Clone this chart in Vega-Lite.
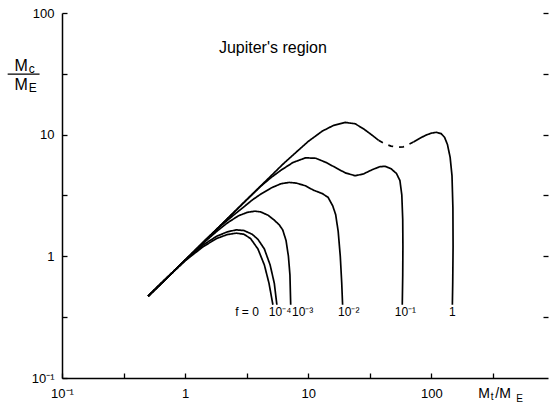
{
  "$schema": "https://vega.github.io/schema/vega-lite/v6.json",
  "width": 486,
  "height": 365,
  "autosize": {"type": "none"},
  "padding": {"left": 62, "top": 13, "right": 4, "bottom": 39},
  "background": "white",
  "config": {"view": {"stroke": null}, "font": "Liberation Sans"},
  "resolve": {"axis": {"x": "independent", "y": "independent"}},
  "datasets": {
    "curves": [
      {"c":"f0","s":"f0","d":"solid","i":1,"x":0.5,"y":0.47},{"c":"f0","s":"f0","d":"solid","i":2,"x":0.7,"y":0.655},{"c":"f0","s":"f0","d":"solid","i":3,"x":1,"y":0.92},{"c":"f0","s":"f0","d":"solid","i":4,"x":1.4,"y":1.2},{"c":"f0","s":"f0","d":"solid","i":5,"x":1.8,"y":1.4},{"c":"f0","s":"f0","d":"solid","i":6,"x":2.2,"y":1.51},{"c":"f0","s":"f0","d":"solid","i":7,"x":2.6,"y":1.55},{"c":"f0","s":"f0","d":"solid","i":8,"x":3.0,"y":1.52},{"c":"f0","s":"f0","d":"solid","i":9,"x":3.4,"y":1.4},{"c":"f0","s":"f0","d":"solid","i":10,"x":3.9,"y":1.15},{"c":"f0","s":"f0","d":"solid","i":11,"x":4.4,"y":0.85},{"c":"f0","s":"f0","d":"solid","i":12,"x":4.8,"y":0.6},{"c":"f0","s":"f0","d":"solid","i":13,"x":5.16,"y":0.4},
      {"c":"f4","s":"f4","d":"solid","i":1,"x":0.5,"y":0.47},{"c":"f4","s":"f4","d":"solid","i":2,"x":0.7,"y":0.655},{"c":"f4","s":"f4","d":"solid","i":3,"x":1,"y":0.93},{"c":"f4","s":"f4","d":"solid","i":4,"x":1.4,"y":1.24},{"c":"f4","s":"f4","d":"solid","i":5,"x":1.8,"y":1.46},{"c":"f4","s":"f4","d":"solid","i":6,"x":2.2,"y":1.59},{"c":"f4","s":"f4","d":"solid","i":7,"x":2.6,"y":1.65},{"c":"f4","s":"f4","d":"solid","i":8,"x":3.0,"y":1.63},{"c":"f4","s":"f4","d":"solid","i":9,"x":3.5,"y":1.52},{"c":"f4","s":"f4","d":"solid","i":10,"x":3.9,"y":1.38},{"c":"f4","s":"f4","d":"solid","i":11,"x":4.4,"y":1.15},{"c":"f4","s":"f4","d":"solid","i":12,"x":4.9,"y":0.85},{"c":"f4","s":"f4","d":"solid","i":13,"x":5.3,"y":0.6},{"c":"f4","s":"f4","d":"solid","i":14,"x":5.56,"y":0.4},
      {"c":"f3","s":"f3","d":"solid","i":1,"x":0.5,"y":0.47},{"c":"f3","s":"f3","d":"solid","i":2,"x":1,"y":0.93},{"c":"f3","s":"f3","d":"solid","i":3,"x":1.4,"y":1.28},{"c":"f3","s":"f3","d":"solid","i":4,"x":1.8,"y":1.6},{"c":"f3","s":"f3","d":"solid","i":5,"x":2.2,"y":1.88},{"c":"f3","s":"f3","d":"solid","i":6,"x":2.7,"y":2.15},{"c":"f3","s":"f3","d":"solid","i":7,"x":3.2,"y":2.3},{"c":"f3","s":"f3","d":"solid","i":8,"x":3.7,"y":2.35},{"c":"f3","s":"f3","d":"solid","i":9,"x":4.1,"y":2.32},{"c":"f3","s":"f3","d":"solid","i":10,"x":4.7,"y":2.18},{"c":"f3","s":"f3","d":"solid","i":11,"x":5.25,"y":2.0},{"c":"f3","s":"f3","d":"solid","i":12,"x":5.8,"y":1.82},{"c":"f3","s":"f3","d":"solid","i":13,"x":6.2,"y":1.65},{"c":"f3","s":"f3","d":"solid","i":14,"x":6.6,"y":1.35},{"c":"f3","s":"f3","d":"solid","i":15,"x":6.9,"y":1.0},{"c":"f3","s":"f3","d":"solid","i":16,"x":7.1,"y":0.7},{"c":"f3","s":"f3","d":"solid","i":17,"x":7.2,"y":0.4},
      {"c":"f2","s":"f2","d":"solid","i":1,"x":0.5,"y":0.47},{"c":"f2","s":"f2","d":"solid","i":2,"x":1,"y":0.93},{"c":"f2","s":"f2","d":"solid","i":3,"x":1.5,"y":1.4},{"c":"f2","s":"f2","d":"solid","i":4,"x":2,"y":1.82},{"c":"f2","s":"f2","d":"solid","i":5,"x":2.5,"y":2.2},{"c":"f2","s":"f2","d":"solid","i":6,"x":3,"y":2.55},{"c":"f2","s":"f2","d":"solid","i":7,"x":3.5,"y":2.9},{"c":"f2","s":"f2","d":"solid","i":8,"x":4.1,"y":3.24},{"c":"f2","s":"f2","d":"solid","i":9,"x":5,"y":3.65},{"c":"f2","s":"f2","d":"solid","i":10,"x":6,"y":3.95},{"c":"f2","s":"f2","d":"solid","i":11,"x":7,"y":4.05},{"c":"f2","s":"f2","d":"solid","i":12,"x":8,"y":4.0},{"c":"f2","s":"f2","d":"solid","i":13,"x":9.5,"y":3.8},{"c":"f2","s":"f2","d":"solid","i":14,"x":11,"y":3.5},{"c":"f2","s":"f2","d":"solid","i":15,"x":13,"y":3.28},{"c":"f2","s":"f2","d":"solid","i":16,"x":14.5,"y":3.05},{"c":"f2","s":"f2","d":"solid","i":17,"x":15.8,"y":2.6},{"c":"f2","s":"f2","d":"solid","i":18,"x":16.7,"y":2.2},{"c":"f2","s":"f2","d":"solid","i":19,"x":17.5,"y":1.6},{"c":"f2","s":"f2","d":"solid","i":20,"x":18.2,"y":1.0},{"c":"f2","s":"f2","d":"solid","i":21,"x":18.7,"y":0.6},{"c":"f2","s":"f2","d":"solid","i":22,"x":19,"y":0.4},
      {"c":"f1","s":"f1","d":"solid","i":1,"x":0.5,"y":0.47},{"c":"f1","s":"f1","d":"solid","i":2,"x":1,"y":0.93},{"c":"f1","s":"f1","d":"solid","i":3,"x":2,"y":1.85},{"c":"f1","s":"f1","d":"solid","i":4,"x":3,"y":2.77},{"c":"f1","s":"f1","d":"solid","i":5,"x":4.1,"y":3.76},{"c":"f1","s":"f1","d":"solid","i":6,"x":5,"y":4.45},{"c":"f1","s":"f1","d":"solid","i":7,"x":6,"y":5.1},{"c":"f1","s":"f1","d":"solid","i":8,"x":7.5,"y":5.9},{"c":"f1","s":"f1","d":"solid","i":9,"x":9.5,"y":6.45},{"c":"f1","s":"f1","d":"solid","i":10,"x":11.5,"y":6.4},{"c":"f1","s":"f1","d":"solid","i":11,"x":14,"y":5.9},{"c":"f1","s":"f1","d":"solid","i":12,"x":17,"y":5.3},{"c":"f1","s":"f1","d":"solid","i":13,"x":20,"y":4.85},{"c":"f1","s":"f1","d":"solid","i":14,"x":24,"y":4.6},{"c":"f1","s":"f1","d":"solid","i":15,"x":28,"y":4.75},{"c":"f1","s":"f1","d":"solid","i":16,"x":33,"y":5.15},{"c":"f1","s":"f1","d":"solid","i":17,"x":38,"y":5.45},{"c":"f1","s":"f1","d":"solid","i":18,"x":42,"y":5.5},{"c":"f1","s":"f1","d":"solid","i":19,"x":47,"y":5.25},{"c":"f1","s":"f1","d":"solid","i":20,"x":52,"y":4.8},{"c":"f1","s":"f1","d":"solid","i":21,"x":55.5,"y":4.2},{"c":"f1","s":"f1","d":"solid","i":22,"x":57.5,"y":3.2},{"c":"f1","s":"f1","d":"solid","i":23,"x":58.5,"y":2.0},{"c":"f1","s":"f1","d":"solid","i":24,"x":58.7,"y":1.2},{"c":"f1","s":"f1","d":"solid","i":25,"x":58.5,"y":0.7},{"c":"f1","s":"f1","d":"solid","i":26,"x":58,"y":0.4},
      {"c":"fa","s":"fa1","d":"solid","i":1,"x":0.5,"y":0.47},{"c":"fa","s":"fa1","d":"solid","i":2,"x":1,"y":0.93},{"c":"fa","s":"fa1","d":"solid","i":3,"x":2,"y":1.85},{"c":"fa","s":"fa1","d":"solid","i":4,"x":3,"y":2.77},{"c":"fa","s":"fa1","d":"solid","i":5,"x":4,"y":3.69},{"c":"fa","s":"fa1","d":"solid","i":6,"x":5,"y":4.6},{"c":"fa","s":"fa1","d":"solid","i":7,"x":6.2,"y":5.7},{"c":"fa","s":"fa1","d":"solid","i":8,"x":8,"y":7.2},{"c":"fa","s":"fa1","d":"solid","i":9,"x":10,"y":8.8},{"c":"fa","s":"fa1","d":"solid","i":10,"x":13,"y":10.7},{"c":"fa","s":"fa1","d":"solid","i":11,"x":16,"y":11.9},{"c":"fa","s":"fa1","d":"solid","i":12,"x":20,"y":12.6},{"c":"fa","s":"fa1","d":"solid","i":13,"x":24,"y":12.3},{"c":"fa","s":"fa1","d":"solid","i":14,"x":28,"y":11.2},{"c":"fa","s":"fa1","d":"solid","i":15,"x":33,"y":9.9},{"c":"fa","s":"fa1","d":"solid","i":16,"x":37.2,"y":9.0},
      {"c":"fa","s":"fa2","d":"dashed","i":1,"x":37.2,"y":9.0},{"c":"fa","s":"fa2","d":"dashed","i":2,"x":42,"y":8.4},{"c":"fa","s":"fa2","d":"dashed","i":3,"x":47,"y":8.05},{"c":"fa","s":"fa2","d":"dashed","i":4,"x":53,"y":7.9},{"c":"fa","s":"fa2","d":"dashed","i":5,"x":59,"y":7.95},{"c":"fa","s":"fa2","d":"dashed","i":6,"x":65,"y":8.3},{"c":"fa","s":"fa2","d":"dashed","i":7,"x":71.5,"y":8.7},
      {"c":"fa","s":"fa3","d":"solid","i":1,"x":71.5,"y":8.7},{"c":"fa","s":"fa3","d":"solid","i":2,"x":80,"y":9.3},{"c":"fa","s":"fa3","d":"solid","i":3,"x":90,"y":9.9},{"c":"fa","s":"fa3","d":"solid","i":4,"x":100,"y":10.3},{"c":"fa","s":"fa3","d":"solid","i":5,"x":110,"y":10.45},{"c":"fa","s":"fa3","d":"solid","i":6,"x":120,"y":10.2},{"c":"fa","s":"fa3","d":"solid","i":7,"x":128,"y":9.5},{"c":"fa","s":"fa3","d":"solid","i":8,"x":135,"y":8.3},{"c":"fa","s":"fa3","d":"solid","i":9,"x":142,"y":6.5},{"c":"fa","s":"fa3","d":"solid","i":10,"x":147,"y":4.6},{"c":"fa","s":"fa3","d":"solid","i":11,"x":149.5,"y":2.5},{"c":"fa","s":"fa3","d":"solid","i":12,"x":150,"y":1.2},{"c":"fa","s":"fa3","d":"solid","i":13,"x":149,"y":0.6},{"c":"fa","s":"fa3","d":"solid","i":14,"x":148,"y":0.4}
    ],
    "curveLabels": [
      {"t":"f = 0","x":3.18,"y":0.352},
      {"t":"10⁻⁴","x":5.9,"y":0.352},
      {"t":"10⁻³","x":9.0,"y":0.352},
      {"t":"10⁻²","x":21.3,"y":0.352},
      {"t":"10⁻¹","x":61.5,"y":0.352},
      {"t":"1","x":148,"y":0.352}
    ],
    "yTitleBig": [
      {"t":"M","x":0.0412,"y":33.3},
      {"t":"M","x":0.0412,"y":23.2}
    ],
    "yTitleSub": [
      {"t":"c","x":0.0536,"y":32.1},
      {"t":"E","x":0.0536,"y":22.4}
    ],
    "xTitleBig": [
      {"t":"M","x":240,"y":0.0691},
      {"t":"/M","x":330,"y":0.0691}
    ],
    "xTitleSub": [
      {"t":"t","x":303,"y":0.0655},
      {"t":"E","x":488,"y":0.0635}
    ],
    "bar": [{"x":0.0362,"x2":0.0657,"y":31.5}],
    "title": [{"t":"Jupiter's region","x":5.16,"y":52}]
  },
  "layer": [
    {
      "data": {"name": "curves"},
      "mark": {"type": "line", "color": "black", "strokeWidth": 1.7, "clip": true},
      "encoding": {
        "x": {"field": "x", "type": "quantitative",
          "scale": {"type": "log", "domain": [0.1, 885], "nice": false},
          "axis": {"orient": "bottom", "title": null, "grid": false,
            "values": [0.1, 0.31623, 1, 3.1623, 10, 31.623, 100, 316.23],
            "labelExpr": "datum.value < 0.11 ? '10⁻¹' : (abs(datum.value-1) < 0.01 ? '1' : (abs(datum.value-10) < 0.1 ? '10' : (abs(datum.value-100) < 1 ? '100' : '')))",
            "labelFlush": false, "labelOverlap": false, "labelFont": "Liberation Sans", "labelFontSize": 13, "labelColor": "black",
            "labelPadding": 14, "tickSize": -5, "tickColor": "black", "tickWidth": 1.3,
            "domainColor": "black", "domainWidth": 1.5}},
        "y": {"field": "y", "type": "quantitative",
          "scale": {"type": "log", "domain": [0.1, 100], "nice": false},
          "axis": {"orient": "left", "title": null, "grid": false,
            "values": [0.1, 0.31623, 1, 3.1623, 10, 31.623, 100],
            "labelExpr": "datum.value < 0.11 ? '10⁻¹' : (abs(datum.value-1) < 0.01 ? '1' : (abs(datum.value-10) < 0.1 ? '10' : (abs(datum.value-100) < 1 ? '100' : '')))",
            "labelFlush": false, "labelOverlap": false, "labelFont": "Liberation Sans", "labelFontSize": 13, "labelColor": "black",
            "labelPadding": 13, "tickSize": -5, "tickColor": "black", "tickWidth": 1.3,
            "domainColor": "black", "domainWidth": 1.5}},
        "detail": {"field": "s"},
        "order": {"field": "i", "type": "quantitative"},
        "strokeDash": {"field": "d", "type": "nominal", "legend": null,
          "scale": {"domain": ["solid", "dashed"], "range": [[1, 0], [5, 6]]}}
      }
    },
    {
      "data": {"name": "curves"},
      "mark": {"type": "line", "opacity": 0},
      "encoding": {
        "x": {"field": "x", "type": "quantitative", "axis": null},
        "y": {"field": "y", "type": "quantitative",
          "axis": {"orient": "right", "title": null, "grid": false, "domain": false, "labels": false,
            "values": [0.31623, 1, 3.1623, 10, 31.623, 100],
            "tickSize": -5, "tickColor": "black", "tickWidth": 1.3}},
        "detail": {"field": "s"}
      }
    },
    {
      "data": {"name": "curveLabels"},
      "mark": {"type": "text", "font": "Liberation Sans", "fontSize": 12, "color": "black", "align": "center", "baseline": "middle"},
      "encoding": {
        "x": {"field": "x", "type": "quantitative", "axis": null},
        "y": {"field": "y", "type": "quantitative", "axis": null},
        "text": {"field": "t"}
      }
    },
    {
      "data": {"name": "yTitleBig"},
      "mark": {"type": "text", "font": "Liberation Sans", "fontSize": 16, "color": "black", "align": "left", "baseline": "alphabetic", "clip": false},
      "encoding": {
        "x": {"field": "x", "type": "quantitative", "axis": null},
        "y": {"field": "y", "type": "quantitative", "axis": null},
        "text": {"field": "t"}
      }
    },
    {
      "data": {"name": "yTitleSub"},
      "mark": {"type": "text", "font": "Liberation Sans", "fontSize": 12, "color": "black", "align": "left", "baseline": "alphabetic", "clip": false},
      "encoding": {
        "x": {"field": "x", "type": "quantitative", "axis": null},
        "y": {"field": "y", "type": "quantitative", "axis": null},
        "text": {"field": "t"}
      }
    },
    {
      "data": {"name": "xTitleBig"},
      "mark": {"type": "text", "font": "Liberation Sans", "fontSize": 14, "color": "black", "align": "left", "baseline": "alphabetic", "clip": false},
      "encoding": {
        "x": {"field": "x", "type": "quantitative", "axis": null},
        "y": {"field": "y", "type": "quantitative", "axis": null},
        "text": {"field": "t"}
      }
    },
    {
      "data": {"name": "xTitleSub"},
      "mark": {"type": "text", "font": "Liberation Sans", "fontSize": 10, "color": "black", "align": "left", "baseline": "alphabetic", "clip": false},
      "encoding": {
        "x": {"field": "x", "type": "quantitative", "axis": null},
        "y": {"field": "y", "type": "quantitative", "axis": null},
        "text": {"field": "t"}
      }
    },
    {
      "data": {"name": "bar"},
      "mark": {"type": "rule", "color": "black", "strokeWidth": 1.3, "clip": false},
      "encoding": {
        "x": {"field": "x", "type": "quantitative", "axis": null},
        "x2": {"field": "x2"},
        "y": {"field": "y", "type": "quantitative", "axis": null}
      }
    },
    {
      "data": {"name": "title"},
      "mark": {"type": "text", "font": "Liberation Sans", "fontSize": 16, "color": "black", "align": "center", "baseline": "middle"},
      "encoding": {
        "x": {"field": "x", "type": "quantitative", "axis": null},
        "y": {"field": "y", "type": "quantitative", "axis": null},
        "text": {"field": "t"}
      }
    }
  ]
}
